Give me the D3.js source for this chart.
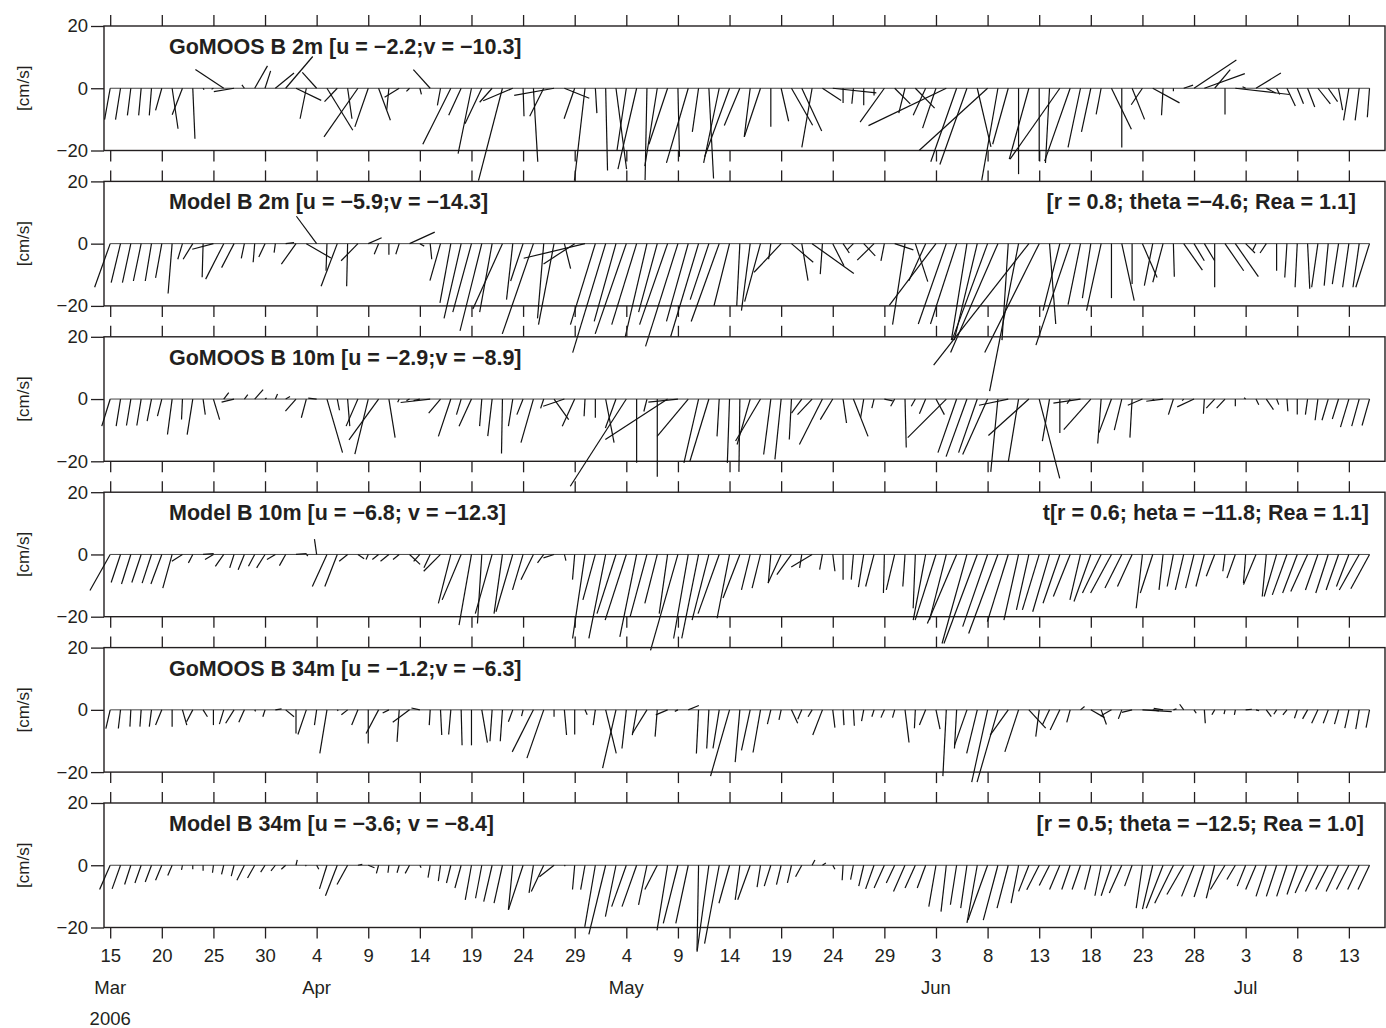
<!DOCTYPE html>
<html>
<head>
<meta charset="utf-8">
<title>stick plots</title>
<script src="https://cdn.jsdelivr.net/npm/d3@7"></script>
<style>
body { margin: 0; background: #fff; }
text { font-family: "Liberation Sans", Arial, sans-serif; fill: #231f20; }
</style>
</head>
<body>
<svg id="chart" width="1386" height="1028"></svg>
<script>
// daily series, 15 Mar .. 15 Jul 2006 (u = east, v = north, cm/s)
const g2U = [-1.8,-1.6,-1.1,-0.8,-0.7,-2.0,1.9,-3.3,0.7,0.3, -0.6,-9.1,-6.5,-0.8,4.1,1.8,6.0,8.7,8.1,-2.0,
  -4.6,8.3,-4.1,1.4,-10.9,-4.3,3.8,-0.7,-4.7,-1.0, 0.5,-5.4,-1.0,-9.0,-4.0,-4.3,-5.4,-4.0,-7.7,-9.5,
  0.3,1.4,-4.5,-12.8,8.0,-3.4,-3.4,0.5,0.6,3.4, -3.0,-6.0,-0.6,-4.0,-6.0,0.5,-7.0,-2.0,1.5,-5.0,
  -8.0,-5.0,-1.9,-5.2,0.0,2.4,6.8,6.4,-3.3,6.0, 14.0,0.0,-0.5,0.0,0.0,-7.8,5.0,-2.0,6.2,-4.0,
  -4.3,-25.0,-8.3,-8.7,4.4,-22.0,-5.2,-5.0,0.0,-6.3, 0.0,-1.3,-16.0,-8.2,-4.0,-3.0,-1.6,6.4,0.0,4.0,
  -3.6,8.6,-0.5,0.0,3.0,13.6,13.0,5.0,0.0,17.4, -1.0,8.0,3.0,1.0,2.7,2.0,2.3,4.0,3.0,1.3, -1.7,-1.3,-0.7];
const g2V = [-10.1,-10.1,-8.7,-8.7,-8.7,-7.1,-13.0,-8.5,-16.2,-0.5, -0.3,6.0,-1.1,1.1,7.2,5.6,4.9,10.2,-3.9,-9.8,
  5.1,-13.5,-4.3,-9.8,-15.6,-12.4,-10.3,-7.0,-2.9,-1.0, -2.0,6.0,-5.5,-18.0,-8.7,-21.0,-11.4,-4.5,-29.7,-4.0,
  -9.0,-23.6,-9.0,-2.3,-3.2,-9.8,-29.7,-8.0,-26.4,-26.0, -20.0,-26.0,-29.5,-25.0,-18.0,-22.0,-24.0,-14.0,-29.0,-24.0,
  -22.0,-12.0,-15.6,-15.6,-12.4,-10.6,-11.9,-13.7,-19.0,-3.9, -1.5,-4.7,-5.0,-5.5,-2.3,-10.9,-5.0,-8.0,-6.4,-8.7,
  -12.8,-12.0,-23.6,-24.5,-18.8,-20.0,-29.6,-18.0,-27.6,-22.8, -23.4,-24.0,-22.8,-23.4,-19.0,-14.0,-8.4,-13.2,-19.0,-10.0,
  -5.3,-4.7,-8.7,-1.0,1.0,9.1,4.7,6.0,-8.4,-2.0, 0.5,4.9,-1.5,-2.0,-5.7,-5.0,-6.0,-5.0,-4.3,-7.0, -10.3,-10.3,-9.3];

const m2U = [-5.0,-3.0,-2.7,-2.5,-2.0,-2.0,-1.3,-1.5,-3.1,-0.3, -6.8,-5.8,-4.0,-1.0,-0.5,-2.0,-0.4,2.7,-4.7,7.9,
  -6.5,-0.3,-5.2,-0.3,-5.4,4.3,-1.4,0.0,-1.1,8.1, 1.4,0.5,-3.4,-3.5,-5.5,-6.0,-7.0,-4.0,-9.5,-2.0,
  -4.0,-10.0,-2.0,-5.0,2.0,-10.0,-19.7,-8.0,-10.6,-7.0, -10.0,-8.0,-7.0,-6.0,-9.0,-10.4,-7.0,-9.0,-6.0,-9.0,
  -5.0,-1.0,-2.8,-5.1,-0.7,-8.7,7.0,2.0,13.4,-0.7, 3.6,2.0,-2.0,3.7,-5.4,-1.1,6.0,-4.0,4.0,-5.4,
  -15.0,-9.0,-8.4,-5.0,-7.4,-11.4,-15.2,-2.0,-9.3,-30.6, -17.5,2.0,-5.4,-11.0,-4.0,-2.7,-4.7,0.0,4.0,0.0,
  4.7,-2.7,-3.3,0.3,6.0,3.3,3.3,0.0,6.0,7.4, 3.0,-1.0,-2.0,0.0,-0.7,-0.7,0.7,-2.0,-1.3,-2.0, -2.0,-2.0,-4.4];
const m2V = [-14.0,-12.5,-12.5,-12.0,-12.0,-11.0,-16.0,-5.0,-5.0,-10.8, -1.8,-11.4,-7.7,-4.7,-6.0,-4.3,-2.9,0.3,-6.6,-4.6,
  8.8,-8.7,-13.7,-13.7,-5.5,1.9,-3.4,-3.6,-3.4,3.7, -0.8,-5.0,-11.9,-19.0,-24.0,-22.0,-28.0,-22.0,-21.0,-18.0,
  -12.0,-29.0,-24.0,-26.0,-8.0,-6.5,-4.7,-26.0,-35.0,-25.0, -29.0,-26.0,-30.0,-22.0,-26.0,-33.0,-25.0,-30.0,-18.0,-25.0,
  -20.0,-20.0,-21.5,-18.6,-5.0,-9.2,-6.0,-11.9,-9.6,-9.8, -7.1,-3.0,-2.0,-3.9,-5.3,-5.5,-2.0,-26.0,-12.2,-11.9,
  -19.8,-25.8,-25.8,-31.0,-31.0,-31.0,-35.0,-31.0,-47.4,-39.0, -35.0,-25.8,-21.5,-32.6,-19.6,-17.5,-21.5,-17.5,-18.3,-13.0,
  -10.9,-13.5,-12.4,-10.6,-8.5,-5.5,-5.5,-14.0,-8.7,-10.6, -3.0,-2.0,-3.0,-8.7,-10.9,-14.0,-14.5,-14.0,-13.5,-13.0, -14.0,-14.0,-14.0];

const g10U = [-2.7,-1.4,-1.4,-1.4,-1.4,-1.4,-1.5,-0.3,-1.8,0.7, 2.0,1.6,-4.0,1.1,2.7,0.5,0.7,1.4,-3.4,-1.6,
  -2.7,5.0,0.7,0.7,-3.8,-4.3,-9.5,2.0,-0.5,-1.0, -2.0,-9.5,-3.8,-4.0,-1.5,-4.0,-0.7,-1.4,-0.3,-1.4,
  -2.0,-4.0,-1.0,4.7,-6.8,-4.0,-0.3,0.0,2.7,-3.4, -18.0,0.0,-1.0,0.0,-20.0,-9.5,-10.0,-4.7,-6.1,-0.7,
  -0.7,-0.3,-4.2,-8.0,-2.3,-2.0,-0.7,-3.3,-4.7,-7.4, -4.0,1.1,4.7,-1.0,-0.7,2.7,-1.3,0.4,-1.3,-2.0,
  2.7,-12.4,-6.0,-6.7,-6.0,-8.0,-2.3,-9.4,-3.3,-13.0, 6.6,-2.3,0.0,-1.0,-8.7,-8.7,-1.1,-4.0,-2.4,-0.7,
  -4.7,0.5,-5.4,-1.6,-0.5,-5.4,-0.3,-2.7,-2.7,0.0, -0.5,0.9,2.3,0.7,0.3,0.0,-0.7,-0.9,-2.0,-2.0, -2.7,-2.4,-2.4];
const g10V = [-8.7,-8.7,-8.5,-8.5,-7.1,-5.5,-11.4,-6.6,-11.4,-5.0, -6.6,2.1,-1.0,1.4,3.0,0.3,1.6,0.8,-3.9,-6.0,
  0.3,-17.2,-3.6,-8.7,-8.7,-17.7,-13.1,-12.4,-1.0,-0.5, -0.5,-1.1,-4.5,-12.0,-5.0,-8.7,-8.7,-11.9,-17.5,-8.7,
  -5.0,-14.0,-3.0,-6.6,-2.3,-8.7,-5.5,-6.0,-14.0,-9.3, -28.0,-20.5,-4.0,-25.0,-13.0,-1.0,-12.0,-20.5,-20.0,-12.0,
  -20.5,-23.4,-14.6,-13.5,-17.8,-19.4,-13.0,-4.5,-5.0,-14.6, -6.6,-7.7,-12.0,-6.0,-2.9,-0.6,-2.3,-15.6,-2.3,-4.7,
  -5.0,-12.4,-17.2,-18.5,-17.2,-17.8,-23.4,-2.0,-20.2,-11.7, -25.5,-13.5,-10.9,-1.5,-1.3,-9.8,-14.3,-10.8,-10.0,-12.4,
  -2.0,-0.5,-0.7,-5.0,-0.5,-2.5,-4.7,-2.9,-2.9,-2.3, 0.4,-1.8,-3.4,-1.8,-3.9,-5.0,-5.0,-6.8,-6.8,-6.4, -9.0,-8.7,-8.5];

const m10U = [-6.5,-3.0,-3.0,-3.0,-3.0,-3.5,-3.0,-3.4,-1.4,3.4, -2.7,-2.7,-1.4,-2.0,-2.0,-2.7,-2.7,-2.0,3.4,0.5,
  -0.7,-4.7,-4.0,-2.7,2.0,-0.7,-2.0,-2.7,-2.0,3.4, -2.0,-2.0,-5.4,-4.0,-6.1,-4.0,-1.4,-5.4,-2.7,-5.4,
  -3.4,-4.0,-2.0,-3.4,0.5,-0.7,-4.0,-4.0,-5.4,-6.1, -6.8,-5.4,-5.4,-4.0,-2.7,-8.8,-4.7,-5.4,-5.4,-6.8,
  -4.0,-5.4,-2.8,-2.7,-0.8,-4.2,-4.7,-0.7,-6.7,-0.9, 0.7,0.0,-0.7,-1.7,-2.7,-0.3,-2.7,-0.7,-0.7,-4.0,
  -6.7,-5.4,-9.4,-8.0,-10.7,-8.0,-9.4,-6.7,-4.7,-4.0, -5.4,-5.4,-5.4,-5.4,-3.4,-5.4,-6.0,-6.7,-5.4,-4.7,
  -2.0,-4.0,-1.3,-2.0,-2.7,-2.7,-2.7,-2.7,-0.7,-2.7, -0.7,-4.0,-1.3,-4.0,-4.7,-4.7,-5.4,-4.0,-4.0,-4.0, -4.0,-6.4,-6.0];
const m10V = [-11.6,-9.0,-9.5,-9.0,-9.2,-9.5,-10.8,-2.2,-2.7,0.3, -1.6,-3.8,-4.3,-4.9,-3.8,-4.3,-1.6,-3.6,0.3,-0.5,
  4.9,-10.3,-10.3,-2.2,-1.4,-1.6,-1.6,-2.2,-1.6,-3.2, -2.2,-4.3,-5.4,-15.7,-14.6,-22.7,-22.2,-19.0,-19.0,-18.4,
  -11.4,-8.1,-2.7,-1.1,-2.0,-8.1,-27.0,-14.6,-27.0,-19.0, -21.1,-26.5,-20.0,-15.7,-19.0,-30.8,-27.0,-27.0,-21.1,-19.0,
  -20.5,-14.0,-11.4,-10.8,-9.2,-9.2,-6.5,-4.3,-4.0,-4.9, -5.4,-8.1,-8.1,-10.5,-10.3,-12.4,-11.4,-10.3,-17.3,-21.1,
  -21.1,-21.1,-22.2,-28.6,-28.6,-23.2,-25.4,-21.6,-21.1,-17.8, -17.8,-18.4,-15.7,-13.5,-14.6,-15.1,-12.4,-12.4,-10.8,-10.3,
  -17.3,-12.4,-11.4,-10.3,-11.4,-10.8,-10.3,-7.0,-5.4,-7.6, -9.2,-9.7,-13.5,-13.5,-13.0,-12.4,-11.9,-11.4,-12.4,-11.4, -10.3,-11.4,-11.0];

const g34U = [-1.4,-0.7,-0.3,-0.4,-0.7,-2.0,0.0,1.4,-2.0,1.4, 0.0,-1.4,-2.7,-1.8,0.3,-0.7,2.0,2.7,0.0,-2.7,
  -0.7,-2.3,0.3,-2.0,-2.0,0.0,-4.0,-2.0,-0.7,-5.4, -2.7,-0.3,0.4,-0.7,0.3,0.0,1.8,-0.7,-0.7,-1.4,
  -0.5,-6.8,-5.4,0.0,0.7,0.0,0.7,-0.7,3.4,-4.3, -1.4,-1.4,-4.7,-0.7,-3.8,-1.0,3.4,-0.7,-0.7,-2.0,
  -6.1,-1.5,-2.8,-2.4,-1.1,-0.7,2.0,-1.3,-1.3,-3.1, 0.7,0.3,0.3,-0.7,-0.7,-1.1,-0.7,1.3,-0.3,-2.0,
  1.3,-1.1,-0.7,-4.0,-3.4,-5.1,-6.7,-5.8,-4.4,5.4, -1.1,-2.3,-3.1,-1.1,1.3,4.4,1.7,-3.5,-1.1,-3.3,
  9.4,2.0,-3.0,1.0,-1.3,0.7,0.3,-0.9,-0.3,-0.3, 2.0,1.0,1.6,-0.9,-1.3,-0.9,-1.6,-2.0,-1.6,-1.3, -1.3,-1.1,-1.1];
const g34V = [-6.0,-6.0,-5.4,-5.4,-5.4,-4.9,-5.4,-4.9,-3.8,-2.2, -4.9,-4.6,-4.3,-4.0,-0.5,-2.2,0.3,-2.2,-7.6,-7.9,
  -4.9,-14.0,-0.3,-1.6,-4.9,-10.8,-7.6,-1.0,-10.3,-4.0, 0.6,-4.9,-8.1,-7.9,-11.4,-11.4,-10.5,-10.1,-10.1,-3.8,
  -2.0,-13.5,-15.5,-2.2,-8.1,-7.9,-1.6,-4.9,-14.0,-18.7, -12.4,-8.1,-7.6,-8.6,-1.6,-0.5,1.4,-14.0,-12.4,-12.4,
  -21.3,-16.8,-13.0,-13.7,-4.6,-3.2,-4.3,-3.0,-2.2,-8.1, -5.7,-4.9,-5.1,-3.6,-2.2,-2.5,-2.5,-10.5,-5.9,-4.9,
  -6.2,-21.3,-12.4,-11.4,-14.0,-23.2,-23.2,-8.1,-13.5,-5.9, -8.6,-4.9,-6.5,-4.0,1.1,-2.5,-4.7,-2.0,-2.9,-0.8,
  -0.6,-0.3,0.5,0.3,1.8,-1.1,-4.3,-1.6,-1.4,-1.6, 0.2,-0.3,-2.2,-1.4,-1.6,-2.7,-2.9,-4.3,-4.3,-4.6, -5.9,-6.2,-5.7];

const m34U = [-3.4,-2.7,-2.0,-2.0,-2.0,-2.0,-1.4,-0.3,0.0,0.0, -0.3,-0.7,-0.9,-2.4,-2.3,-1.4,-1.4,-1.4,0.4,-0.3,
  0.7,-2.4,-3.8,-3.4,1.4,2.0,-0.7,-0.3,-0.7,-1.4, 0.4,-0.7,-0.7,-1.4,-2.0,-2.0,-2.0,-2.7,-2.7,-1.4,
  -4.7,-1.4,-4.0,-4.7,0.3,-0.7,-1.4,-3.4,-5.4,-3.4, -4.7,-4.7,-2.7,-4.0,-3.4,-4.7,-4.0,-0.5,-3.8,-4.7,
  -3.4,-1.5,-4.0,-1.1,-2.1,-1.5,-1.3,-2.0,0.9,1.1, 0.7,-0.3,-0.9,-1.6,-2.7,-3.3,-2.7,-3.7,-3.3,-2.7,
  -2.3,-1.7,-2.0,-2.0,-3.3,-6.3,-4.7,-3.6,-2.4,-3.3, -4.0,-3.3,-3.3,-2.7,-2.7,-2.0,-2.0,-3.3,-4.0,-2.4,
  -2.0,-3.3,-5.4,-6.0,-5.4,-4.0,-3.3,-2.7,-4.7,-2.7, -2.7,-3.3,-3.3,-3.3,-3.3,-3.3,-4.0,-4.0,-4.0,-4.0, -4.0,-3.7,-3.7];
const m34V = [-7.8,-7.6,-6.2,-5.7,-5.4,-4.8,-3.3,-1.5,-1.3,-1.8, -2.4,-2.9,-3.5,-4.8,-4.1,-2.2,-1.8,-1.3,1.7,-0.3,
  -1.3,-7.6,-9.8,-6.2,0.3,-0.8,-2.6,-2.4,-2.4,-2.6, -0.8,-4.0,-5.1,-5.7,-7.3,-11.1,-10.6,-11.7,-12.2,-14.3,
  -14.3,-8.9,-8.4,-3.7,-0.3,-7.8,-7.8,-19.8,-22.2,-16.5, -13.3,-13.3,-12.7,-7.8,-20.9,-18.7,-18.7,-27.4,-27.8,-25.2,
  -12.2,-11.1,-11.1,-7.0,-6.7,-6.2,-5.7,-3.7,1.7,0.7, -1.3,-4.8,-4.6,-6.7,-7.6,-7.3,-5.7,-8.4,-7.3,-7.3,
  -13.3,-14.9,-12.7,-13.8,-18.5,-17.6,-17.6,-13.8,-12.2,-8.4, -7.9,-6.5,-7.8,-7.8,-7.8,-7.8,-9.8,-9.8,-8.9,-6.7,
  -13.8,-14.1,-13.8,-12.2,-9.4,-10.0,-10.2,-10.6,-7.8,-4.6, -6.7,-7.8,-10.0,-10.0,-10.0,-9.4,-8.9,-8.4,-7.8,-8.4, -7.8,-7.8,-7.8];

const panelTitles = [
  "GoMOOS B 2m [u = \u22122.2;v = \u221210.3]",
  "Model B 2m [u = \u22125.9;v = \u221214.3]",
  "GoMOOS B 10m [u = \u22122.9;v = \u22128.9]",
  "Model B 10m [u = \u22126.8; v = \u221212.3]",
  "GoMOOS B 34m [u = \u22121.2;v = \u22126.3]",
  "Model B 34m [u = \u22123.6; v = \u22128.4]"
];
const panelStats = ["", "[r = 0.8; theta =\u22124.6; Rea = 1.1]", "", "t[r = 0.6; heta = \u221211.8; Rea = 1.1]", "", "[r = 0.5; theta = \u221212.5; Rea = 1.0]"];
const seriesU = [g2U, m2U, g10U, m10U, g34U, m34U];
const seriesV = [g2V, m2V, g10V, m10V, g34V, m34V];
const yTicks = [-20, 0, 20];
const monthNames = ["Mar", "Apr", "May", "Jun", "Jul"];
const monthAt = ["2006-03-15", "2006-04-04", "2006-05-04", "2006-06-03", "2006-07-03"];
const yearLabel = "2006";

// layout
const ink = "#231f20";
const left = 104, right = 1385, top0 = 26, pitch = 155.4, ph = 124.5;
const statX = [0, 1356, 0, 1369, 0, 1364];
const dayMs = 864e5;
const start = Date.UTC(2006, 2, 15);
const days = d3.utcDay.range(new Date(start), new Date(Date.UTC(2006, 6, 16)));
const tickDates = d3.range(0, 121, 5).map(i => new Date(start + i * dayMs));

const x = d3.scaleUtc()
  .domain([new Date(start - 0.6 * dayMs), new Date(start + 123.5 * dayMs)])
  .range([left, right]);

const svg = d3.select("#chart");
svg.append("rect").attr("width", 1386).attr("height", 1028).attr("fill", "#fff");

seriesU.forEach((U, p) => {
  const V = seriesV[p];
  const top = top0 + p * pitch;
  const y = d3.scaleLinear().domain([-20, 20]).range([top + ph, top]);
  const k = y(0) - y(1);          // px per cm/s, same on both axes
  const g = svg.append("g");

  g.append("rect")
    .attr("x", left).attr("y", top)
    .attr("width", right - left).attr("height", ph)
    .attr("fill", "none").attr("stroke", ink).attr("stroke-width", 1.4);

  const ya = g.append("g").attr("transform", `translate(${left},0)`)
    .call(d3.axisLeft(y).tickValues(yTicks).tickSize(13).tickPadding(3));
  const xt = g.append("g").attr("transform", `translate(0,${top})`)
    .call(d3.axisTop(x).tickValues(tickDates).tickSize(11).tickFormat(""));
  const xb = g.append("g").attr("transform", `translate(0,${top + ph})`)
    .call(d3.axisBottom(x).tickValues(tickDates).tickSize(11).tickPadding(10)
      .tickFormat(p === 5 ? d3.utcFormat("%-d") : ""));
  [ya, xt, xb].forEach(a => {
    a.select(".domain").remove();
    a.selectAll("line").attr("stroke", ink).attr("stroke-width", 1.3);
    a.selectAll("text").attr("font-size", 18.5).attr("font-family", "Liberation Sans, Arial, sans-serif").attr("fill", ink);
  });

  g.append("text")
    .attr("transform", `translate(23,${y(0)}) rotate(-90)`)
    .attr("text-anchor", "middle").attr("dy", "0.35em")
    .attr("font-size", 17).text("[cm/s]");

  // zero line through the stick bases
  g.append("line")
    .attr("x1", x(days[0])).attr("x2", x(days[days.length - 1]))
    .attr("y1", y(0)).attr("y2", y(0))
    .attr("stroke", "#444").attr("stroke-width", 1);

  g.append("g").selectAll("line").data(days).join("line")
    .attr("x1", d => x(d)).attr("y1", y(0))
    .attr("x2", (d, i) => x(d) + U[i] * k)
    .attr("y2", (d, i) => y(V[i]))
    .attr("stroke", "#111").attr("stroke-width", 1.2);

  g.append("text").attr("x", 169).attr("y", top + 28)
    .attr("font-size", 21.5).attr("font-weight", "bold").text(panelTitles[p]);
  if (panelStats[p]) {
    g.append("text").attr("x", statX[p]).attr("y", top + 28)
      .attr("text-anchor", "end")
      .attr("font-size", 21.5).attr("font-weight", "bold").text(panelStats[p]);
  }
});

const parse = d3.utcParse("%Y-%m-%d");
svg.append("g").selectAll("text").data(monthNames).join("text")
  .attr("x", (d, i) => x(parse(monthAt[i])))
  .attr("y", 994)
  .attr("text-anchor", "middle").attr("font-size", 18.5)
  .text(d => d);
svg.append("text").attr("x", x(parse(monthAt[0]))).attr("y", 1025)
  .attr("text-anchor", "middle").attr("font-size", 18.5).text(yearLabel);
</script>
</body>
</html>
